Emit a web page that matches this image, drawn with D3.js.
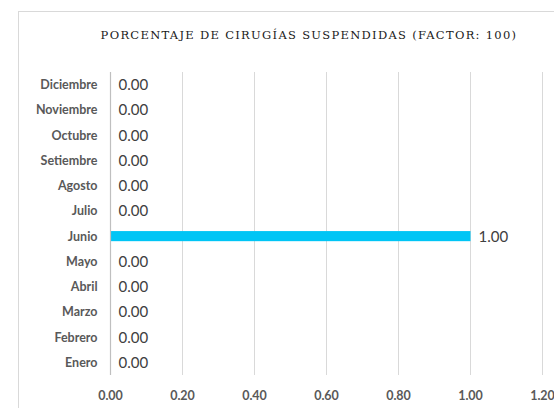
<!DOCTYPE html>
<html>
<head>
<meta charset="utf-8">
<script src="https://cdn.jsdelivr.net/npm/d3@7"></script>
<style>
  body { margin: 0; background: #fff; }
  text { font-family: Lato, "Open Sans", sans-serif; }
</style>
</head>
<body>
<div id="chart"></div>
<script>
var months = ['Enero', 'Febrero', 'Marzo', 'Abril', 'Mayo', 'Junio', 'Julio',
    'Agosto', 'Setiembre', 'Octubre', 'Noviembre', 'Diciembre'];
var values = [0, 0, 0, 0, 0, 1, 0, 0, 0, 0, 0, 0];
var xTicks = [0, 0.2, 0.4, 0.6, 0.8, 1.0, 1.2];
var title = 'PORCENTAJE DE CIRUGÍAS SUSPENDIDAS (FACTOR: 100)';

var width = 554, height = 408;
var margin = { left: 110.5, right: 11.5, top: 72, bottom: 33 };

var svg = d3.select('#chart').append('svg')
    .attr('width', width)
    .attr('height', height);

// chart frame
svg.append('rect')
    .attr('x', 18.5).attr('y', 11.5)
    .attr('width', 600).attr('height', 500)
    .attr('fill', 'none')
    .attr('stroke', '#d9d9d9');

svg.append('text')
    .attr('x', 309)
    .attr('y', 39)
    .attr('text-anchor', 'middle')
    .style('font-family', '"DejaVu Serif", serif')
    .style('font-size', '11.5px')
    .style('letter-spacing', '1.3px')
    .attr('fill', '#1a1a1a')
    .text(title);

var x = d3.scaleLinear()
    .domain([0, 1.2])
    .range([margin.left, width - margin.right]);

var y = d3.scaleBand()
    .domain(months.slice().reverse())
    .range([margin.top, height - margin.bottom])
    .paddingInner(0.6)
    .paddingOuter(0.3);

// gridlines
svg.append('g')
    .selectAll('line')
    .data(xTicks.slice(1))
    .enter().append('line')
    .attr('x1', function (d) { return x(d); })
    .attr('x2', function (d) { return x(d); })
    .attr('y1', margin.top)
    .attr('y2', height - margin.bottom)
    .attr('stroke', '#d9d9d9')
    .attr('stroke-width', 1);

var data = months.map(function (m, i) { return { month: m, value: values[i] }; });

svg.append('g')
    .selectAll('rect')
    .data(data)
    .enter().append('rect')
    .attr('x', x(0))
    .attr('y', function (d) { return y(d.month); })
    .attr('width', function (d) { return x(d.value) - x(0); })
    .attr('height', y.bandwidth())
    .attr('fill', '#00c5f5');

// value labels
svg.append('g')
    .selectAll('text')
    .data(data)
    .enter().append('text')
    .attr('x', function (d) { return x(d.value) + 8; })
    .attr('y', function (d) { return y(d.month) + y.bandwidth() / 2; })
    .attr('dy', '0.36em')
    .style('font-size', '15px')
    .attr('fill', '#404040')
    .text(function (d) { return d.value.toFixed(2); });

// y axis
svg.append('line')
    .attr('x1', x(0)).attr('x2', x(0))
    .attr('y1', margin.top)
    .attr('y2', height - margin.bottom)
    .attr('stroke', '#bfbfbf')
    .attr('stroke-width', 1.2);

svg.append('g')
    .selectAll('text')
    .data(months)
    .enter().append('text')
    .attr('x', x(0) - 13)
    .attr('y', function (d) { return y(d) + y.bandwidth() / 2; })
    .attr('dy', '0.36em')
    .attr('text-anchor', 'end')
    .style('font-size', '12.5px')
    .style('font-weight', 'bold')
    .attr('fill', '#595959')
    .text(function (d) { return d; });

// x axis labels
svg.append('g')
    .selectAll('text')
    .data(xTicks)
    .enter().append('text')
    .attr('x', function (d) { return x(d); })
    .attr('y', 395)
    .attr('dy', '0.36em')
    .attr('text-anchor', 'middle')
    .style('font-size', '12.5px')
    .style('font-weight', 'bold')
    .attr('fill', '#595959')
    .text(function (d) { return d.toFixed(2); });
</script>
</body>
</html>
